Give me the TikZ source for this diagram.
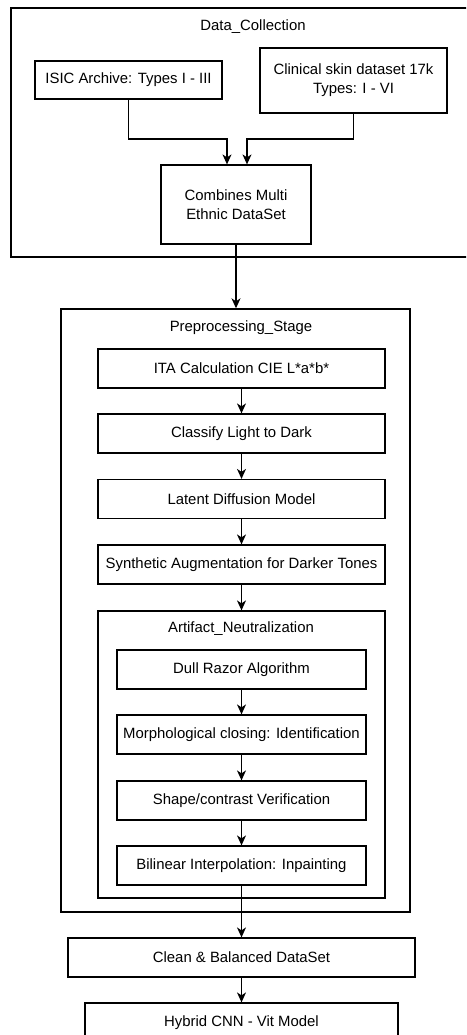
\documentclass[tikz,border=0pt]{standalone}
\usepackage{fontspec}
\setmainfont{Liberation Sans}
\usepackage{tikz}
\usetikzlibrary{arrows.meta}

\begin{document}
\begin{tikzpicture}[
  x=1pt, y=-1pt,
  box/.style={rectangle, draw=black, line width=1.2pt, inner sep=0pt, align=center,
    minimum height=39pt, font=\fontsize{14.9}{19}\selectfont},
  group/.style={rectangle, draw=black, line width=1.4pt, inner sep=0pt},
  grouptitle/.style={inner sep=0pt, font=\fontsize{14.9}{19}\selectfont},
  arr/.style={-{Stealth[length=10pt, width=9pt, inset=3pt]}, line width=1.2pt}
]
\useasboundingbox (0,0) rectangle (466,1035);
\clip (0,0) rectangle (466,1035);

% data collection
\node[group, minimum width=484pt, minimum height=249pt] (dc) at (253,132.5) {};
\node[grouptitle] (dctitle) at (253,27) {Data\_Collection};
\node[box, minimum width=187pt, minimum height=38pt] (isic) at (128.5,80) {ISIC Archive: Types I - III};
\node[box, minimum width=187pt, minimum height=65pt] (clin) at (353.5,80.5) {Clinical skin dataset 17k\\Types: I - VI};
\node[box, minimum width=150pt, minimum height=79pt] (comb) at (236,204.5) {Combines Multi\\Ethnic DataSet};
\coordinate (join) at (0,139);

% preprocessing
\node[group, minimum width=349pt, minimum height=603pt] (pre) at (235.5,610.5) {};
\node[grouptitle] (pretitle) at (241,328) {Preprocessing\_Stage};
\node[box, minimum width=287pt] (ita) at (241.5,368.5) {ITA Calculation CIE L*a*b*};
\node[box, minimum width=287pt] (cls) at (241.5,433.5) {Classify Light to Dark};
\node[box, minimum width=287pt] (ldm) at (241.5,499) {Latent Diffusion Model};
\node[box, minimum width=287pt] (syn) at (241.5,564.5) {Synthetic Augmentation for Darker Tones};

% artifact neutralization
\node[group, line width=1.2pt, minimum width=287pt, minimum height=287pt] (art) at (241.5,754.5) {};
\node[grouptitle] (arttitle) at (241,629) {Artifact\_Neutralization};
\node[box, minimum width=249pt] (dull) at (241.5,669.5) {Dull Razor Algorithm};
\node[box, minimum width=249pt] (morph) at (241.5,734.5) {Morphological closing: Identification};
\node[box, minimum width=249pt] (shape) at (241.5,800.5) {Shape/contrast Verification};
\node[box, minimum width=249pt] (bil) at (241.5,865.5) {Bilinear Interpolation: Inpainting};

% output
\node[box, minimum width=347pt] (clean) at (241.5,957.5) {Clean \& Balanced DataSet};
\node[box, minimum width=313pt] (hyb) at (241.5,1022.5) {Hybrid CNN - Vit Model};

\draw[arr] (isic.south) -- (isic.south |- join) -| ([xshift=-9pt]comb.north);
\draw[arr] (clin.south) -- (clin.south |- join) -| ([xshift=11pt]comb.north);
\draw[arr] (comb.south) -- (comb.south |- pre.north);
\draw[arr] (ita) -- (cls);
\draw[arr] (cls) -- (ldm);
\draw[arr] (ldm) -- (syn);
\draw[arr] (syn) -- (art);
\draw[arr] (dull) -- (morph);
\draw[arr] (morph) -- (shape);
\draw[arr] (shape) -- (bil);
\draw[arr] (bil) -- (clean);
\draw[arr] (clean) -- (hyb);
\end{tikzpicture}
\end{document}
